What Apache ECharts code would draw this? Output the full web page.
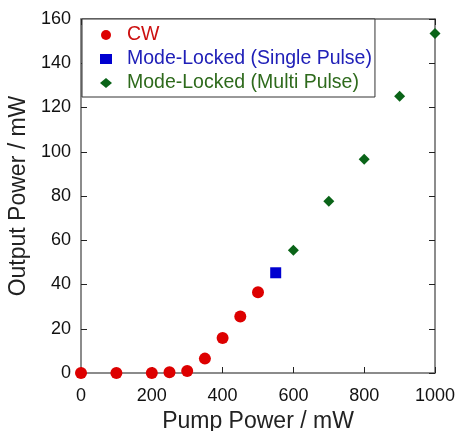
<!DOCTYPE html>
<html>
<head>
<meta charset="utf-8">
<script src="https://cdn.jsdelivr.net/npm/echarts@6/dist/echarts.min.js"></script>
<style>
  html, body { margin: 0; padding: 0; background: #fff; }
  #chart { width: 458px; height: 431px; }
</style>
</head>
<body>
<div id="chart"></div>
<script>
// Pump power (mW) vs. output power (mW) for each operating regime
const cwPump = [0, 100, 200, 250, 300, 350, 400, 450, 500];
const cwOutput = [0, 0, 0, 0.3, 0.9, 6.5, 15.8, 25.5, 36.5];
const singlePump = [550];
const singleOutput = [45.3];
const multiPump = [600, 700, 800, 900, 1000];
const multiOutput = [55.5, 77.6, 96.6, 125.1, 153.5];

const seriesNames = ['CW', 'Mode-Locked (Single Pulse)', 'Mode-Locked (Multi Pulse)'];
const xTicks = { min: 0, max: 1000, step: 200 };
const yTicks = { min: 0, max: 160, step: 20 };

const pairs = (xs, ys) => xs.map((x, i) => [x, ys[i]]);

const FONT = 'Liberation Sans, Arial, sans-serif';
const AXIS_COLOR = '#666666';

const chart = echarts.init(document.getElementById('chart'), null, { renderer: 'canvas' });

const baseAxis = {
  axisLine: { show: true, onZero: false, lineStyle: { color: AXIS_COLOR, width: 1.5 } },
  axisTick: { show: true, inside: true, length: 6, lineStyle: { color: '#222', width: 1 } },
  splitLine: { show: false }
};

const plainNumber = v => String(v);

chart.setOption({
  animation: false,
  backgroundColor: '#ffffff',
  grid: { left: 81, right: 23, top: 19, bottom: 58, containLabel: false, outerBoundsMode: 'none' },
  xAxis: [
    Object.assign({}, baseAxis, {
      type: 'value', position: 'bottom',
      min: xTicks.min, max: xTicks.max, interval: xTicks.step,
      name: 'Pump Power / mW', nameLocation: 'middle', nameGap: 29,
      nameTextStyle: { fontFamily: FONT, fontSize: 23, color: '#222' },
      axisLabel: { fontFamily: FONT, fontSize: 18, color: '#111', margin: 14, formatter: plainNumber }
    }),
    Object.assign({}, baseAxis, {
      type: 'value', position: 'top',
      min: xTicks.min, max: xTicks.max, interval: xTicks.step,
      axisLabel: { show: false }
    })
  ],
  yAxis: [
    Object.assign({}, baseAxis, {
      type: 'value', position: 'left',
      min: yTicks.min, max: yTicks.max, interval: yTicks.step,
      name: 'Output Power / mW', nameLocation: 'middle', nameGap: 44,
      nameTextStyle: { fontFamily: FONT, fontSize: 23, color: '#222' },
      axisLabel: { fontFamily: FONT, fontSize: 18, color: '#111', margin: 10, formatter: plainNumber }
    }),
    Object.assign({}, baseAxis, {
      type: 'value', position: 'right',
      min: yTicks.min, max: yTicks.max, interval: yTicks.step,
      axisLabel: { show: false }
    })
  ],
  legend: {
    orient: 'vertical',
    left: 82, top: 19,
    padding: [6, 3, 4, 18],
    itemGap: 4,
    itemWidth: 12, itemHeight: 10,
    backgroundColor: '#ffffff',
    borderColor: '#333333', borderWidth: 1,
    textStyle: { fontFamily: FONT, fontSize: 19.5, padding: [0, 0, 0, 10] },
    data: [
      { name: seriesNames[0], textStyle: { color: '#cc1010' } },
      { name: seriesNames[1], textStyle: { color: '#2020b8' } },
      { name: seriesNames[2], textStyle: { color: '#2e6a1c' } }
    ]
  },
  series: [
    {
      name: seriesNames[0], type: 'scatter', symbol: 'circle', symbolSize: 12,
      itemStyle: { color: '#dd0000', opacity: 1 },
      data: pairs(cwPump, cwOutput), clip: false, z: 3
    },
    {
      name: seriesNames[1], type: 'scatter', symbol: 'rect', symbolSize: 11,
      itemStyle: { color: '#0000d0', opacity: 1 },
      data: pairs(singlePump, singleOutput), clip: false, z: 3
    },
    {
      name: seriesNames[2], type: 'scatter', symbol: 'diamond', symbolSize: 11,
      itemStyle: { color: '#0a6418', opacity: 1 },
      data: pairs(multiPump, multiOutput), clip: false, z: 3
    }
  ]
});
</script>
</body>
</html>
